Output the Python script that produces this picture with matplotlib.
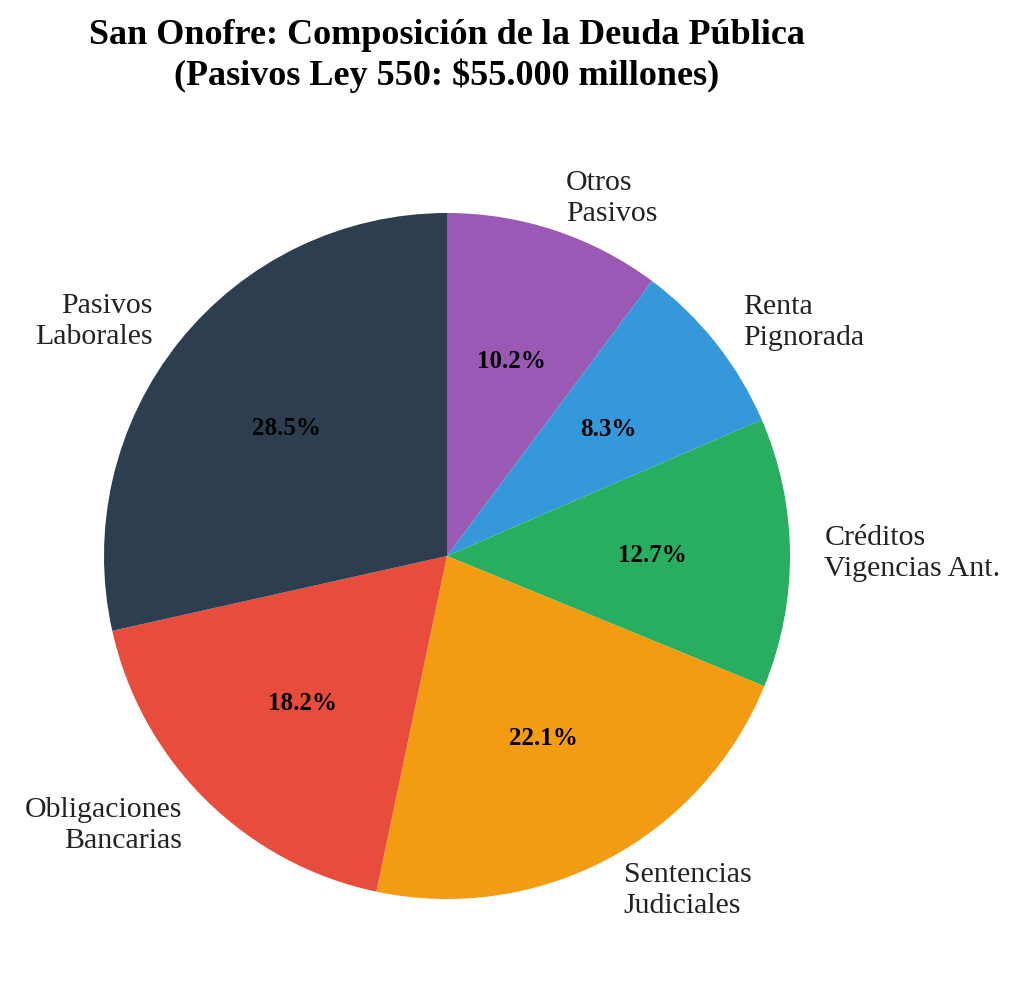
import matplotlib
matplotlib.use("Agg")
import matplotlib.pyplot as plt

categories = ["Otros\nPasivos", "Renta\nPignorada", "Créditos\nVigencias Ant.",
              "Sentencias\nJudiciales", "Obligaciones\nBancarias", "Pasivos\nLaborales"]
values = [10.2, 8.3, 12.7, 22.1, 18.2, 28.5]
colors = ["#9b59b6", "#3498db", "#27ae60", "#f39c12", "#e74c3c", "#2c3e50"]
title = "San Onofre: Composición de la Deuda Pública\n(Pasivos Ley 550: $55.000 millones)"

plt.rcParams['font.family'] = ['Liberation Serif', 'DejaVu Serif']

W, H = 1024, 1003
fig = plt.figure(figsize=(W / 100, H / 100), dpi=100)
cx, cy, r = 447, 557, 343
ax = fig.add_axes([(cx - r) / W, (H - cy - r) / H, 2 * r / W, 2 * r / H])

wedges, texts, autotexts = ax.pie(
    values, labels=categories, colors=colors, autopct='%1.1f%%',
    startangle=90, counterclock=False, pctdistance=0.6, labeldistance=1.1,
    textprops={'fontsize': 21.5, 'color': '#222222', 'linespacing': 1.25},
    wedgeprops={'linewidth': 0})
for t in autotexts:
    t.set_fontsize(18)
    t.set_fontweight('bold')
    t.set_color('black')
ax.set_xlim(-1, 1)
ax.set_ylim(-1, 1)
ax.set_aspect('equal')
ax.axis('off')

fig.text(447 / W, 1 - 56 / H, title, ha='center', va='center',
         fontsize=26, fontweight='bold', linespacing=1.25)

fig.savefig("out.png", dpi=100)
